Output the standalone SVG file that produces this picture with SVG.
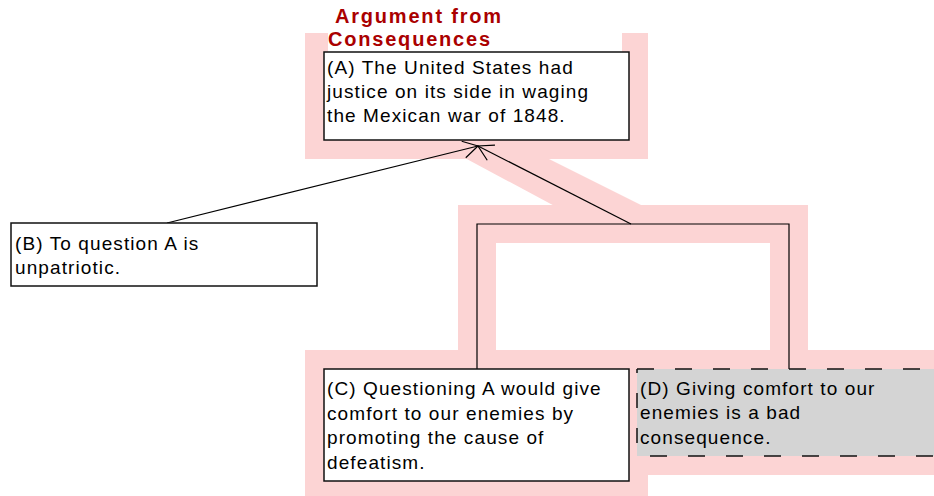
<svg xmlns="http://www.w3.org/2000/svg" width="934" height="496" viewBox="0 0 934 496">
<defs>
<style>
.hl{fill:none;stroke:#fcd4d4;stroke-width:38;stroke-linejoin:miter}
.box{fill:#fff;stroke:#111;stroke-width:1.5}
.t{font-family:"Liberation Sans",Arial,sans-serif;font-size:19px;letter-spacing:1.1px;fill:#000}
.title{font-family:"Liberation Sans",Arial,sans-serif;font-size:20px;font-weight:bold;letter-spacing:1.8px;fill:#aa0000}
.ln{fill:none;stroke:#000;stroke-width:1.2}
.dash{fill:none;stroke:#111;stroke-width:1.5}
</style>
<marker id="arr" viewBox="0 0 20 20" refX="18" refY="10" markerWidth="20" markerHeight="20" markerUnits="userSpaceOnUse" orient="auto">
<path d="M3.3,1.5 L18,10 L3.3,18.5" fill="none" stroke="#000" stroke-width="1.2"/>
</marker>
</defs>
<rect width="934" height="496" fill="#fff"/>
<g id="highlight">
<rect class="hl" x="324" y="52" width="305" height="88"/>
<polygon points="450,150 531,150 651,210 562,210" fill="#fcd4d4"/>
<path class="hl" d="M477,369 V224 H789 V369"/>
<rect class="hl" x="324" y="369" width="305" height="112"/>
<rect class="hl" x="637" y="369" width="330" height="87"/>
</g>
<g id="title">
<rect x="328" y="28" width="294" height="24" fill="#fff"/>
<text class="title" x="335" y="23">Argument from</text>
<text class="title" x="328" y="46">Consequences</text>
</g>
<g id="connectors">
<line class="ln" x1="167" y1="223" x2="478" y2="146" marker-end="url(#arr)"/>
<line class="ln" x1="631" y1="224" x2="478" y2="146" marker-end="url(#arr)"/>
<path class="ln" d="M477,369 V224 H789 V369"/>
</g>
<g id="nodeA">
<rect class="box" x="324" y="52" width="305" height="88"/>
<text class="t" x="327" y="74">(A) The United States had</text>
<text class="t" x="327" y="98">justice on its side in waging</text>
<text class="t" x="327" y="122">the Mexican war of 1848.</text>
</g>
<g id="nodeB">
<rect class="box" x="11" y="223" width="306" height="63"/>
<text class="t" x="15" y="250">(B) To question A is</text>
<text class="t" x="15" y="274">unpatriotic.</text>
</g>
<g id="nodeC">
<rect class="box" x="324" y="369" width="305" height="112"/>
<text class="t" x="327" y="395">(C) Questioning A would give</text>
<text class="t" x="327" y="420">comfort to our enemies by</text>
<text class="t" x="327" y="444">promoting the cause of</text>
<text class="t" x="327" y="469">defeatism.</text>
</g>
<g id="nodeD">
<rect x="637" y="369" width="330" height="87" fill="#d4d4d4"/>
<line class="dash" x1="637" y1="369" x2="934" y2="369" stroke-dasharray="17 21"/>
<line class="dash" x1="637" y1="456" x2="934" y2="456" stroke-dasharray="17 21" stroke-dashoffset="-13"/>
<line class="dash" x1="637" y1="456" x2="637" y2="369" stroke-dasharray="15 20" stroke-dashoffset="22"/>
<text class="t" x="640" y="395">(D) Giving comfort to our</text>
<text class="t" x="640" y="419">enemies is a bad</text>
<text class="t" x="640" y="444">consequence.</text>
</g>
</svg>
